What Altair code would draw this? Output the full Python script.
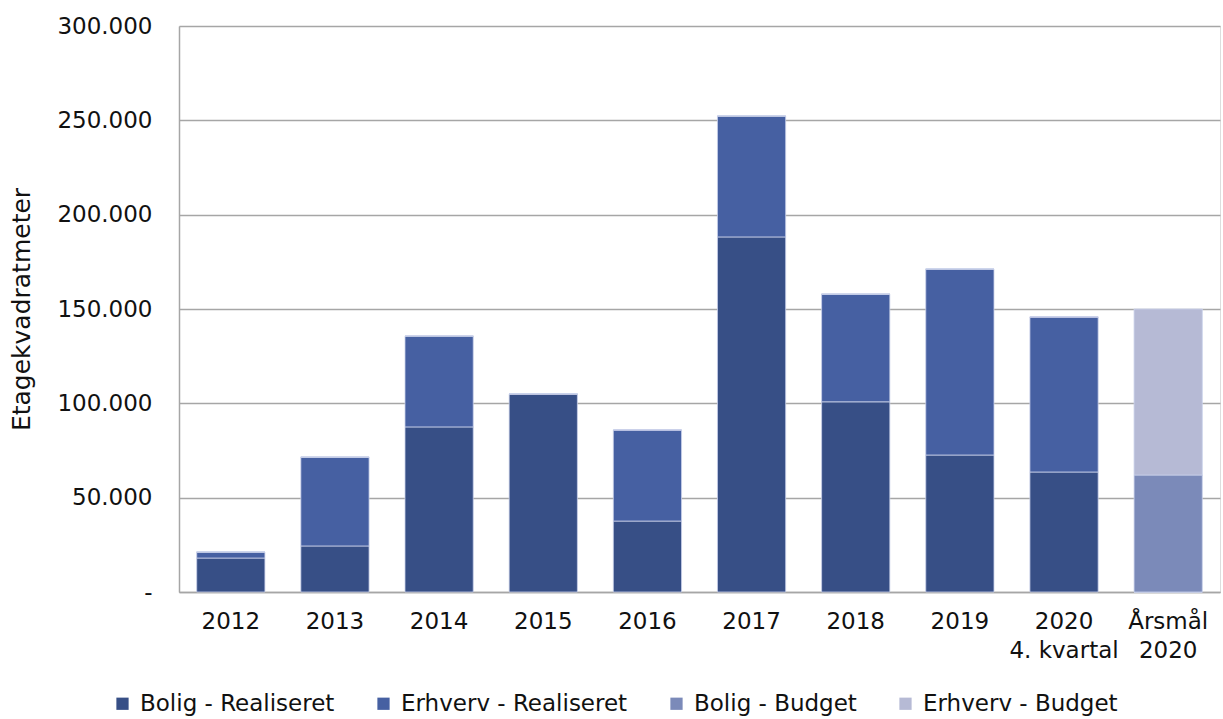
import altair as alt
import pandas as pd

categories = ["2012", "2013", "2014", "2015", "2016", "2017", "2018", "2019", "2020|4. kvartal", "Årsmål|2020"]
series = ["Bolig - Realiseret", "Erhverv - Realiseret", "Bolig - Budget", "Erhverv - Budget"]
colors = ["#374F86", "#4660A2", "#7B8AB9", "#B6BAD5"]

bolig_real = [18000, 24400, 87500, 105000, 37600, 188200, 100800, 72600, 63600, 0]
erhverv_real = [3200, 47100, 48200, 0, 48300, 64100, 57100, 98600, 82200, 0]
bolig_budget = [0, 0, 0, 0, 0, 0, 0, 0, 0, 62000]
erhverv_budget = [0, 0, 0, 0, 0, 0, 0, 0, 0, 88000]

rows = []
for i, c in enumerate(categories):
    for k, (s, vals) in enumerate(zip(series, [bolig_real, erhverv_real, bolig_budget, erhverv_budget])):
        rows.append({"cat": c, "series": s, "value": vals[i], "ord": k})
df = pd.DataFrame(rows)

FONT = "DejaVu Sans"
FS = 23

chart = alt.Chart(df).mark_bar(stroke="#c9d1ea", strokeWidth=0.8).encode(
    x=alt.X("cat:N", sort=categories, title=None,
            scale=alt.Scale(paddingInner=0.345, paddingOuter=0.17),
            axis=alt.Axis(labelExpr="split(datum.label, '|')", labelAngle=0,
                          labelFontSize=FS, labelColor="#111111", labelFont=FONT,
                          labelPadding=18, labelLineHeight=29, ticks=False,
                          domainColor="#A6A6A6", domainWidth=1.5, grid=False)),
    y=alt.Y("value:Q", stack="zero", title="Etagekvadratmeter",
            scale=alt.Scale(domain=[0, 300000], nice=False),
            axis=alt.Axis(values=[0, 50000, 100000, 150000, 200000, 250000, 300000],
                          labelExpr="datum.value == 0 ? '-' : format(datum.value / 1000, 'd') + '.000'",
                          labelFontSize=FS, labelColor="#111111", labelFont=FONT,
                          labelPadding=27, ticks=False,
                          titleFontSize=25, titleFont=FONT, titleFontWeight="normal",
                          titleColor="#111111", titlePadding=22,
                          domainColor="#A6A6A6", domainWidth=1.5,
                          gridColor="#A6A6A6", gridWidth=1.5)),
    color=alt.Color("series:N", sort=series,
                    scale=alt.Scale(domain=series, range=colors),
                    legend=alt.Legend(title=None, orient="none", direction="horizontal",
                                      legendX=-68, legendY=666,
                                      symbolType="square", symbolSize=150,
                                      symbolStrokeWidth=0, labelOffset=6,
                                      labelFontSize=FS, labelFont=FONT, labelColor="#111111",
                                      columnPadding=37, labelLimit=400)),
    order=alt.Order("ord:Q"),
).properties(
    width=1041, height=566,
    autosize=alt.AutoSizeParams(type="none"),
    padding={"left": 179, "top": 26, "right": 3, "bottom": 127},
).configure_view(stroke=None).configure(font=FONT)

chart.save("out.html", embed_options={"renderer": "svg", "actions": False})
